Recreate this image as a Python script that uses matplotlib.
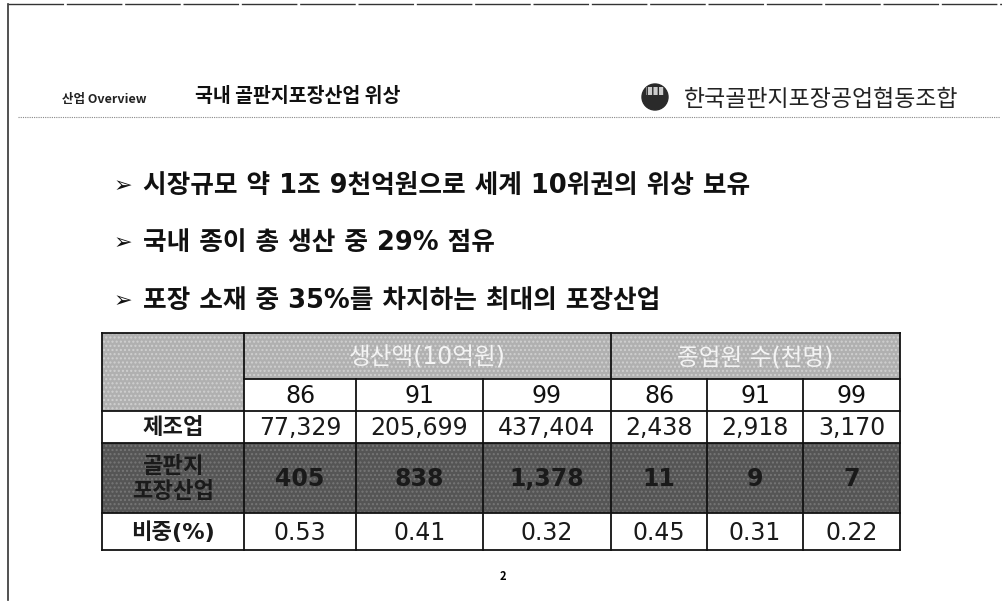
import matplotlib
matplotlib.use('Agg')
import matplotlib.pyplot as plt
from matplotlib.patches import Rectangle, Circle

plt.rcParams['font.family'] = ['Noto Sans CJK KR', 'DejaVu Sans']
# 숫자와 괄호는 넓은 DejaVu, 한글은 Noto로
wide = ['DejaVu Sans', 'Noto Sans CJK KR']

# 슬라이드 텍스트
section = '산업 Overview'
title = '국내 골판지포장산업 위상'
org_name = '한국골판지포장공업협동조합'
bullets = [
    '시장규모 약 1조 9천억원으로 세계 10위권의 위상 보유',
    '국내 종이 총 생산 중 29% 점유',
    '포장 소재 중 35%를 차지하는 최대의 포장산업',
]
page_no = '2'

# 표 데이터
groups = ['생산액(10억원)', '종업원 수(천명)']
years = ['86', '91', '99']
row_labels = ['제조업', '골판지\n포장산업', '비중(%)']
manufacturing = ['77,329', '205,699', '437,404', '2,438', '2,918', '3,170']
corrugated = ['405', '838', '1,378', '11', '9', '7']
share = ['0.53', '0.41', '0.32', '0.45', '0.31', '0.22']

# 표 배치 (픽셀)
col_edges = [102, 244, 356, 483, 611, 707, 803, 900]
row_edges = [333, 379, 411, 443, 513, 550]

fig = plt.figure(figsize=(10.02, 6.07), dpi=100)
ax = fig.add_axes([0, 0, 1, 1])
ax.set_xlim(0, 1002)
ax.set_ylim(607, 0)
ax.axis('off')

# 슬라이드 테두리
ax.plot([8, 8], [4, 600], color='#333333', lw=1.2)
ax.plot([8, 1002], [4, 4], color='#333333', lw=1.0, ls=(0, (40, 2)))

# 머리글
ax.text(62, 100, section, fontsize=9, fontweight='bold', va='center', color='#222222')
ax.text(195, 97, title, fontsize=14, fontweight='bold', va='center', color='#111111')
ax.add_patch(Circle((655, 97), 13, color='#2a2a2a'))
ax.add_patch(Rectangle((646, 87), 18, 8, facecolor='#cccccc', edgecolor='#2a2a2a',
                       hatch='|||', lw=0))
ax.text(684, 99, org_name, fontsize=16.5, va='center', color='#222222')
ax.plot([18, 1000], [117, 117], color='#888888', lw=0.8, ls=(0, (1, 1)))

# 글머리표
for i, b in enumerate(bullets):
    y = 186 + i * 57.5
    ax.text(114, y, '➢', fontsize=16, va='center', family=['DejaVu Sans'], color='#111111')
    ax.text(143, y, b, fontsize=18.5, fontweight='bold', va='center', family=wide,
            color='#111111')

# 표
light_bg = '#b0b0b0'
dark_bg = '#555555'
line_kw = dict(color='#111111', lw=1.3)


def cell(x0, x1, y0, y1, txt, bg='white', fc='#111111', fs=17, fw='normal',
         hatch=None, hc='#999999'):
    ax.add_patch(Rectangle((x0, y0), x1 - x0, y1 - y0, facecolor=bg, edgecolor=hc,
                           lw=0, hatch=hatch))
    ax.text((x0 + x1) / 2, (y0 + y1) / 2 + 1, txt, ha='center', va='center',
            fontsize=fs, fontweight=fw, color=fc, linespacing=1.2, family=wide)


# 좌상단 빈칸
cell(col_edges[0], col_edges[1], row_edges[0], row_edges[2], '', bg=light_bg,
     hatch='....', hc='#d0d0d0')
# 그룹 머리글
for g in range(2):
    cell(col_edges[1 + 3 * g], col_edges[4 + 3 * g], row_edges[0], row_edges[1], groups[g],
         bg=light_bg, fc='#f4f4f4', fs=17, hatch='....', hc='#d0d0d0')
# 연도
for j in range(6):
    cell(col_edges[j + 1], col_edges[j + 2], row_edges[1], row_edges[2], years[j % 3])

rows = [manufacturing, corrugated, share]
for r, vals in enumerate(rows):
    y0, y1 = row_edges[r + 2], row_edges[r + 3]
    dark = r == 1
    bg = dark_bg if dark else 'white'
    hatch = '....' if dark else None
    fc = '#1a1a1a'
    cell(col_edges[0], col_edges[1], y0, y1, row_labels[r], bg=bg, fc=fc,
         fs=16, fw='bold', hatch=hatch, hc='#777777')
    for j, v in enumerate(vals):
        cell(col_edges[j + 1], col_edges[j + 2], y0, y1, v, bg=bg, fc=fc,
             fw='bold' if dark else 'normal', hatch=hatch, hc='#777777')

# 표 선
for y in [row_edges[0], row_edges[2], row_edges[3], row_edges[4], row_edges[5]]:
    ax.plot([col_edges[0], col_edges[-1]], [y, y], **line_kw)
ax.plot([col_edges[1], col_edges[-1]], [row_edges[1], row_edges[1]], **line_kw)
for k, x in enumerate(col_edges):
    if k in (0, 1, 4, 7):
        ax.plot([x, x], [row_edges[0], row_edges[-1]], **line_kw)
    else:
        ax.plot([x, x], [row_edges[1], row_edges[-1]], **line_kw)

ax.text(503, 576, page_no, fontsize=8, fontweight='bold', ha='center', va='center')

fig.savefig('out.png', dpi=100)
